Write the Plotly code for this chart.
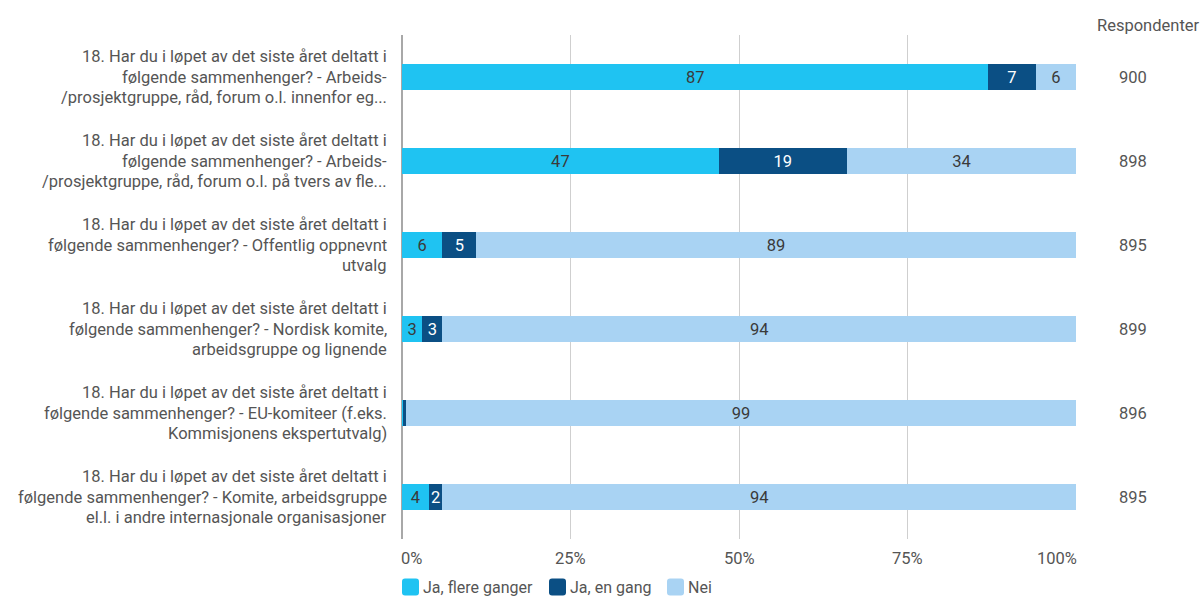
import plotly.graph_objects as go

questions = [
    ["18. Har du i løpet av det siste året deltatt i",
     "følgende sammenhenger? - Arbeids-",
     "/prosjektgruppe, råd, forum o.l. innenfor eg..."],
    ["18. Har du i løpet av det siste året deltatt i",
     "følgende sammenhenger? - Arbeids-",
     "/prosjektgruppe, råd, forum o.l. på tvers av fle..."],
    ["18. Har du i løpet av det siste året deltatt i",
     "følgende sammenhenger? - Offentlig oppnevnt",
     "utvalg"],
    ["18. Har du i løpet av det siste året deltatt i",
     "følgende sammenhenger? - Nordisk komite,",
     "arbeidsgruppe og lignende"],
    ["18. Har du i løpet av det siste året deltatt i",
     "følgende sammenhenger? - EU-komiteer (f.eks.",
     "Kommisjonens ekspertutvalg)"],
    ["18. Har du i løpet av det siste året deltatt i",
     "følgende sammenhenger? - Komite, arbeidsgruppe",
     "el.l. i andre internasjonale organisasjoner"],
]
ja_flere = [87, 47, 6, 3, 0.1, 4]
ja_en = [7, 19, 5, 3, 0.5, 2]
nei = [6, 34, 89, 94, 99.4, 94]
respondenter = [900, 898, 895, 899, 896, 895]
tick_vals = [0, 25, 50, 75, 100]
tick_text = ["0%", "25%", "50%", "75%", "100%"]

cats = [f"q{i}" for i in range(len(questions))]

FONT = "Roboto, 'Open Sans', sans-serif"
GREY = "#555555"
FS = 16.5


def labels(vals):
    # segments too thin to hold a number stay unlabelled
    return [str(round(v)) if v >= 1.5 else "" for v in vals]


def rounded_square(x0, y0, size, r):
    # swatch outline in pixel units, y measured upward from the plot's bottom edge
    x1, y1 = x0 + size, y0 + size
    return (f"M{x0 + r},{y0} L{x1 - r},{y0} Q{x1},{y0} {x1},{y0 + r} "
            f"L{x1},{y1 - r} Q{x1},{y1} {x1 - r},{y1} L{x0 + r},{y1} "
            f"Q{x0},{y1} {x0},{y1 - r} L{x0},{y0 + r} Q{x0},{y0} {x0 + r},{y0} Z")


series = [
    ("Ja, flere ganger", ja_flere, "#1FC3F2", "#3a3a3a"),
    ("Ja, en gang", ja_en, "#0B4F84", "#ffffff"),
    ("Nei", nei, "#A9D3F3", "#3a3a3a"),
]

fig = go.Figure()
for name, vals, color, tcolor in series:
    fig.add_trace(go.Bar(
        y=cats, x=vals, name=name, orientation="h",
        marker=dict(color=color, line=dict(width=0)),
        text=labels(vals), textposition="inside", insidetextanchor="middle",
        textangle=0, insidetextfont=dict(color=tcolor, size=FS, family=FONT),
        hoverinfo="skip",
    ))

annotations = []
# question labels, one annotation per line, right-aligned against the axis
for cat, lines in zip(cats, questions):
    for k, line in enumerate(lines):
        annotations.append(dict(
            x=0, xref="paper", y=cat, yref="y", xanchor="right", yanchor="middle",
            xshift=-13, yshift=(1 - k) * 20.5, text=line, showarrow=False,
            font=dict(size=FS, color=GREY, family=FONT), align="right",
        ))
# respondent counts column
for cat, n in zip(cats, respondenter):
    annotations.append(dict(
        x=1, xref="paper", y=cat, yref="y", xanchor="center", yanchor="middle",
        xshift=57, text=str(n), showarrow=False,
        font=dict(size=FS, color=GREY, family=FONT),
    ))
annotations.append(dict(
    x=1, xref="paper", y=1, yref="paper", xanchor="center", yanchor="middle",
    xshift=72, yshift=10, text="Respondenter", showarrow=False,
    font=dict(size=FS, color=GREY, family=FONT),
))
# percentage tick labels: end labels tucked inside the axis range
for v, t in zip(tick_vals, tick_text):
    if v == tick_vals[0]:
        anchor, shift = "left", -3
    elif v == tick_vals[-1]:
        anchor, shift = "right", 3
    else:
        anchor, shift = "center", 0
    annotations.append(dict(
        x=v, xref="x", y=0, yref="paper", xanchor=anchor, yanchor="middle",
        xshift=shift, yshift=-19, text=t, showarrow=False,
        font=dict(size=FS, color=GREY, family=FONT),
    ))

# legend: rounded swatches with labels below the plot
shapes = []
legend_offsets = [0, 147, 265]
for (name, _, color, _), off in zip(series, legend_offsets):
    shapes.append(dict(
        type="path", xref="paper", yref="paper",
        xsizemode="pixel", ysizemode="pixel", xanchor=0, yanchor=0,
        path=rounded_square(off, -56.5, 17, 3),
        fillcolor=color, line=dict(width=0),
    ))
    annotations.append(dict(
        x=0, xref="paper", y=0, yref="paper", xanchor="left", yanchor="middle",
        xshift=off + 19, yshift=-48, text=name, showarrow=False,
        font=dict(size=FS - 0.5, color=GREY, family=FONT),
    ))

fig.update_layout(
    width=1200, height=596,
    margin=dict(l=402, r=124, t=35, b=57),
    barmode="stack", bargap=0.68,
    plot_bgcolor="white", paper_bgcolor="white",
    font=dict(family=FONT, color=GREY, size=FS),
    showlegend=False,
    uniformtext=dict(minsize=FS, mode="show"),
    annotations=annotations,
    shapes=shapes,
    xaxis=dict(range=[0, 100], tickvals=tick_vals, showticklabels=False,
               showgrid=True, gridcolor="#cfcfcf", gridwidth=1,
               zeroline=True, zerolinecolor="#a8a8a8", zerolinewidth=2,
               showline=False, ticks=""),
    yaxis=dict(categoryorder="array", categoryarray=cats, autorange="reversed",
               showticklabels=False, showgrid=False, zeroline=False, ticks=""),
)

fig.write_html("out.html")
